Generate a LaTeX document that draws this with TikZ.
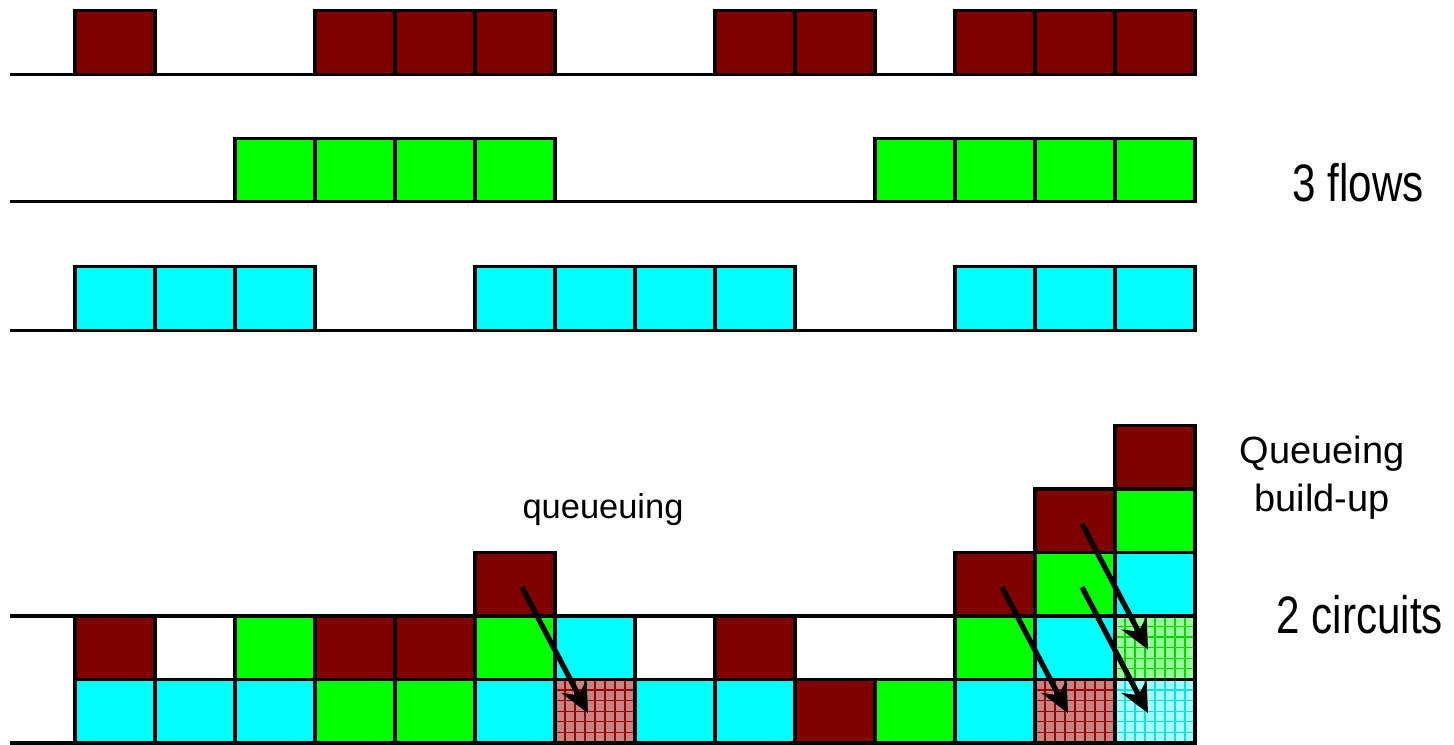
\documentclass[tikz,border=0pt]{standalone}
\usepackage{fontspec}
\setmainfont{Liberation Sans}
\newfontfamily\narrowsf[FakeStretch=0.8]{Liberation Sans}
\usepackage{xcolor}
\usepackage{tikz}
\usetikzlibrary{arrows.meta}
\definecolor{flRed}{RGB}{128,0,0}
\definecolor{flGreen}{RGB}{0,255,0}
\definecolor{flCyan}{RGB}{0,255,255}
\definecolor{qRed}{RGB}{200,130,130}
\definecolor{qRedLine}{RGB}{150,0,0}
\definecolor{qGreen}{RGB}{150,255,150}
\definecolor{qGreenLine}{RGB}{0,215,0}
\definecolor{qCyan}{RGB}{165,255,255}
\definecolor{qCyanLine}{RGB}{0,225,225}

\begin{document}
\begin{tikzpicture}[
  x=0.8cm, y=0.635cm,
  cell/.style={draw=black, line width=0.9pt, minimum width=0.8cm, minimum height=0.635cm, inner sep=0pt, outer sep=0pt},
  hatch/.style 2 args={cell, fill=#1, path picture={
      \draw[#2, line width=0.35pt, xstep=0.1cm, ystep=0.10583cm]
        (path picture bounding box.south west) grid (path picture bounding box.north east);}},
  base/.style={draw=black, line width=0.9pt},
  push/.style={-{Stealth[length=3mm, width=2.8mm]}, line width=1.5pt},
  big/.style={font=\narrowsf\fontsize{15}{18}\selectfont, inner sep=0pt}
]
\useasboundingbox (-0.9375,-0.0315) rectangle (17.2375,11.7);

% time lines
\draw[base] (-0.8125,10.53) -- (14,10.53);
\draw[base] (-0.8125,8.52) -- (14,8.52);
\draw[base] (-0.8125,6.50) -- (14,6.50);
\draw[base] (-0.8125,2) -- (14,2);
\draw[base] (-0.8125,0) -- (13.56,0);

% the 3 flows
\foreach \c in {0,3,4,5,8,9,11,12,13}
  \node[cell, fill=flRed] (fa-\c) at (\c+0.5,11.03) {};
\foreach \c in {2,3,4,5,10,11,12,13}
  \node[cell, fill=flGreen] (fb-\c) at (\c+0.5,9.02) {};
\foreach \c in {0,1,2,5,6,7,8,11,12,13}
  \node[cell, fill=flCyan] (fc-\c) at (\c+0.5,7.00) {};

% the 2 circuits
\foreach \r/\c/\f in {0/0/flCyan, 0/1/flCyan, 0/2/flCyan, 0/3/flGreen, 0/4/flGreen, 0/5/flCyan,
    0/7/flCyan, 0/8/flCyan, 0/9/flRed, 0/10/flGreen, 0/11/flCyan,
    1/0/flRed, 1/2/flGreen, 1/3/flRed, 1/4/flRed, 1/5/flGreen, 1/6/flCyan, 1/8/flRed,
    1/11/flGreen, 1/12/flCyan,
    2/5/flRed, 2/11/flRed, 2/12/flGreen, 2/13/flCyan,
    3/12/flRed, 3/13/flGreen, 4/13/flRed}
  \node[cell, fill=\f] (q-\r-\c) at (\c+0.5,\r+0.5) {};
\foreach \r/\c/\f in {0/6/qRed, 0/12/qRed, 0/13/qCyan, 1/13/qGreen}
  \node[hatch={\f}{\f Line}] (q-\r-\c) at (\c+0.5,\r+0.5) {};

% queued packets
\draw[push] ([xshift=0.7mm, yshift=-0.3mm]q-2-5.center) -- ([xshift=-0.7mm, yshift=-0.2mm]q-0-6.center);
\draw[push] ([xshift=0.7mm, yshift=-0.3mm]q-2-11.center) -- ([xshift=-0.7mm, yshift=-0.2mm]q-0-12.center);
\draw[push] ([xshift=0.7mm, yshift=-0.3mm]q-2-12.center) -- ([xshift=-0.7mm, yshift=-0.2mm]q-0-13.center);
\draw[push] ([xshift=0.7mm, yshift=-0.3mm]q-3-12.center) -- ([xshift=-0.7mm, yshift=-0.2mm]q-1-13.center);

% labels
\node[big, anchor=base] (flows) at (16.04,8.52) {3 flows};
\node[big, anchor=base] (circuits) at (16.06,1.72) {2 circuits};
\node[align=center, inner sep=0pt, font=\fontsize{10.8}{13.6}\selectfont] (buildup) at (15.59,4.18) {Queueing\\build-up};
\node[anchor=base, inner sep=0pt, font=\fontsize{9.8}{12}\selectfont] (queueing) at (6.6,3.53) {queueuing};
\end{tikzpicture}
\end{document}
